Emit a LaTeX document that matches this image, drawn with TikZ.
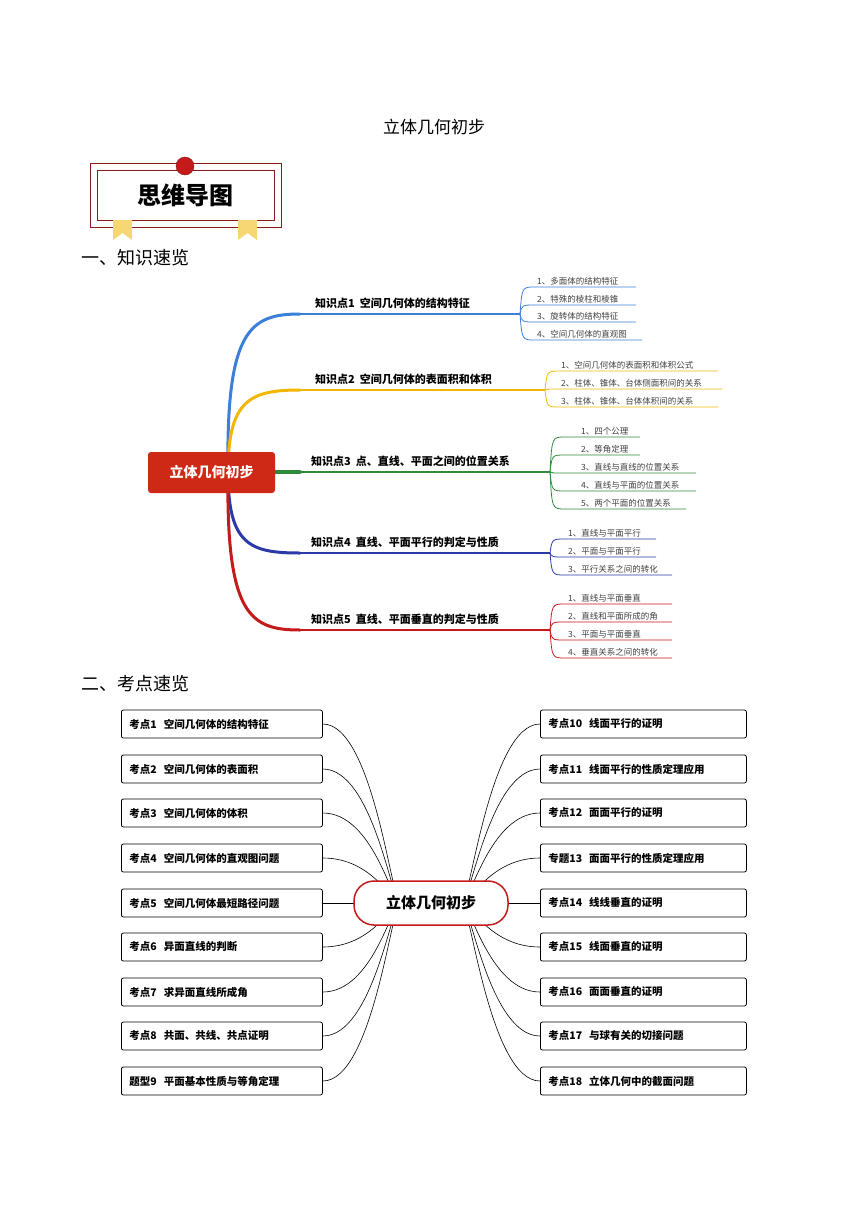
\documentclass[tikz,border=0pt]{standalone}
\usepackage{fontspec}
\setmainfont{Noto Sans CJK SC}
\usetikzlibrary{backgrounds,calc}
\definecolor{cb}{HTML}{3C7FD8}
\definecolor{cy}{HTML}{F2B705}
\definecolor{cg}{HTML}{2E8B3A}
\definecolor{cd}{HTML}{2B3AA8}
\definecolor{cr}{HTML}{C41A1A}
\definecolor{dkred}{HTML}{8B1A1A}
\definecolor{rib}{HTML}{F7D774}
\tikzset{
 sub/.style={font=\fontsize{8.5}{9}\selectfont, anchor=south west, inner sep=1pt, text=black!75},
 blab/.style={font=\bfseries\fontsize{11}{12}\selectfont, anchor=south west, inner sep=1pt},
 kbox/.style={draw, thick, rounded corners=2pt, minimum width=201pt, minimum height=28pt, anchor=west, font=\bfseries\fontsize{10.5}{12}\selectfont, text width=185pt, align=left, fill=white},
 conn/.style={black, semithick},
}
\begin{document}
\begin{tikzpicture}[x=1pt,y=-1pt]
\useasboundingbox (0,0) rectangle (868,1227);
\node (title) at (434,127) {\fontsize{17}{20}\selectfont 立体几何初步};
% banner
\node[draw=dkred, thick, minimum width=191pt, minimum height=64pt] (bo) at (185.5,195) {};
\node[draw=dkred, minimum width=177pt, minimum height=50pt, fill=white] (bi) at (185.5,195) {\bfseries\fontsize{24}{26}\selectfont 思维导图};
\fill[rib] (113,220) -- (132,220) -- (132,240) -- (122.5,233) -- (113,240) -- cycle;
\fill[rib] (238,220) -- (257,220) -- (257,240) -- (247.5,233) -- (238,240) -- cycle;
\node[circle, fill=cr, draw=dkred, minimum size=18pt, inner sep=0] (dot) at (185,166) {};
\node[anchor=west] (h1) at (78,258) {\fontsize{18}{20}\selectfont 一、知识速览};
\node[anchor=west] (h2) at (78,684) {\fontsize{18}{20}\selectfont 二、考点速览};
% mind map 1
\coordinate (hub) at (228,472);
\coordinate (e1) at (520,314);
\coordinate (e2) at (545,390);
\coordinate (e3) at (550,472);
\coordinate (e4) at (550,553);
\coordinate (e5) at (550,630);
\begin{scope}[line cap=round]
\draw[cb, line width=3pt] (hub) .. controls (226,330) and (250,314) .. (300,314);
\draw[cb, line width=1.2pt] (300,314) -- (e1);
\draw[cy, line width=3pt] (hub) .. controls (228,400) and (250,390) .. (300,390);
\draw[cy, line width=1.2pt] (300,390) -- (e2);
\draw[cg, line width=3.5pt] (hub) -- (300,472);
\draw[cg, line width=1.2pt] (300,472) -- (e3);
\draw[cd, line width=3pt] (hub) .. controls (228,545) and (250,553) .. (300,553);
\draw[cd, line width=1.2pt] (300,553) -- (e4);
\draw[cr, line width=3pt] (hub) .. controls (226,615) and (250,630) .. (300,630);
\draw[cr, line width=1.2pt] (300,630) -- (e5);
\end{scope}
\node[fill=cr!85!orange, rounded corners=3pt, minimum width=127pt, minimum height=41pt, text=white] (c1) at (211.5,472.5) {\bfseries\fontsize{14}{16}\selectfont 立体几何初步};
\node[blab] (b1) at (314,310) {知识点1\ \ 空间几何体的结构特征};
\node[blab] (b2) at (314,386) {知识点2\ \ 空间几何体的表面积和体积};
\node[blab] (b3) at (310,468) {知识点3\ \ 点、直线、平面之间的位置关系};
\node[blab] (b4) at (310,549) {知识点4\ \ 直线、平面平行的判定与性质};
\node[blab] (b5) at (310,626) {知识点5\ \ 直线、平面垂直的判定与性质};
% sub branches
\foreach \y/\t/\xe in {287/{1、多面体的结构特征}/636,305/{2、特殊的棱柱和棱锥}/636,322/{3、旋转体的结构特征}/636,340/{4、空间几何体的直观图}/642}{
 \draw[cb, thick] (e1) .. controls (522,\y) .. (535,\y) -- (\xe,\y);
 \node[sub] at (536,\y-1) {\t};}
\foreach \y/\t/\xe in {371/{1、空间几何体的表面积和体积公式}/718,389/{2、柱体、锥体、台体侧面积间的关系}/722,407/{3、柱体、锥体、台体体积间的关系}/718}{
 \draw[cy, thick] (e2) .. controls (547,\y) .. (560,\y) -- (\xe,\y);
 \node[sub] at (560,\y-1) {\t};}
\foreach \y/\t/\xe in {437/{1、四个公理}/640,455/{2、等角定理}/640,473/{3、直线与直线的位置关系}/696,491/{4、直线与平面的位置关系}/696,509/{5、两个平面的位置关系}/686}{
 \draw[cg, thick] (e3) .. controls (552,\y) .. (565,\y) -- (\xe,\y);
 \node[sub] at (580,\y-1) {\t};}
\foreach \y/\t/\xe in {539/{1、直线与平面平行}/656,557/{2、平面与平面平行}/656,575/{3、平行关系之间的转化}/672}{
 \draw[cd, thick] (e4) .. controls (552,\y) .. (565,\y) -- (\xe,\y);
 \node[sub] at (567,\y-1) {\t};}
\foreach \y/\t/\xe in {604/{1、直线与平面垂直}/672,622/{2、直线和平面所成的角}/672,640/{3、平面与平面垂直}/672,658/{4、垂直关系之间的转化}/672}{
 \draw[cr, thick] (e5) .. controls (552,\y) .. (565,\y) -- (\xe,\y);
 \node[sub] at (567,\y-1) {\t};}
% mind map 2
\node[draw=cr, line width=1.5pt, rounded corners=20pt, minimum width=154pt, minimum height=44pt, fill=white] (c2) at (431,903) {\bfseries\fontsize{15}{17}\selectfont 立体几何初步};
\foreach \i/\y/\t in {1/724/{考点1\ \ 空间几何体的结构特征},2/769/{考点2\ \ 空间几何体的表面积},3/813/{考点3\ \ 空间几何体的体积},4/858/{考点4\ \ 空间几何体的直观图问题},5/903/{考点5\ \ 空间几何体最短路径问题},6/947/{考点6\ \ 异面直线的判断},7/992/{考点7\ \ 求异面直线所成角},8/1036/{考点8\ \ 共面、共线、共点证明},9/1081/{题型9\ \ 平面基本性质与等角定理}}{
 \node[kbox] (L\i) at (121,\y) {\t};}
\foreach \i/\y/\t in {1/724/{考点10\ \ 线面平行的证明},2/769/{考点11\ \ 线面平行的性质定理应用},3/813/{考点12\ \ 面面平行的证明},4/858/{专题13\ \ 面面平行的性质定理应用},5/903/{考点14\ \ 线线垂直的证明},6/947/{考点15\ \ 线面垂直的证明},7/992/{考点16\ \ 面面垂直的证明},8/1036/{考点17\ \ 与球有关的切接问题},9/1081/{考点18\ \ 立体几何中的截面问题}}{
 \node[kbox, minimum width=206pt, text width=190pt] (R\i) at (540,\y) {\t};}
\begin{scope}[on background layer]
\foreach \i in {1,...,9}{
 \draw[conn] (L\i.east) .. controls ($(L\i.east)+(50,0)$) and (392,903) .. (400,903);
 \draw[conn] (R\i.west) .. controls ($(R\i.west)+(-50,0)$) and (470,903) .. (462,903);}
\end{scope}
\end{tikzpicture}
\end{document}
